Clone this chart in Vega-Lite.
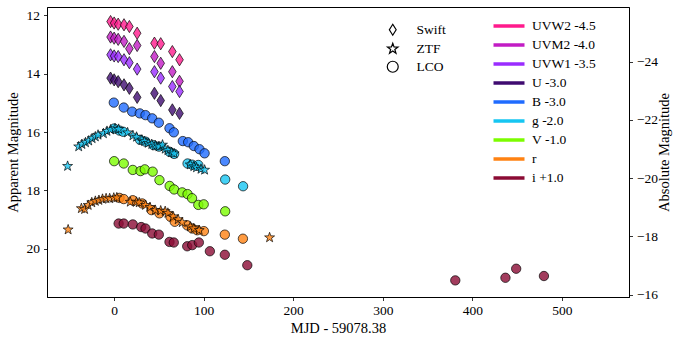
{
  "$schema": "https://vega.github.io/schema/vega-lite/v6.json",
  "width": 582,
  "height": 290,
  "autosize": "none",
  "padding": {"left": 47, "top": 7, "right": 51, "bottom": 45},
  "background": "white",
  "config": {
    "view": {"stroke": "black", "strokeWidth": 1},
    "axis": {"domainColor": "black", "tickColor": "black", "labelColor": "black", "titleColor": "black", "labelFont": "Liberation Serif", "titleFont": "Liberation Serif", "labelFontSize": 13.5, "titleFontSize": 14.5, "titleFontWeight": "normal", "grid": false, "tickSize": 3.5, "tickWidth": 0.8, "domainWidth": 1},
    "legend": {"labelFont": "Liberation Serif", "labelFontSize": 13.5, "labelColor": "black", "symbolBaseFillColor": "transparent", "symbolBaseStrokeColor": "black"}
  },
  "datasets": {
    "phot": [
      {"t": -4, "m": 12.21, "b": "UVW2 -4.5", "s": "Swift"},
      {"t": 0, "m": 12.26, "b": "UVW2 -4.5", "s": "Swift"},
      {"t": 4.5, "m": 12.30, "b": "UVW2 -4.5", "s": "Swift"},
      {"t": 11, "m": 12.32, "b": "UVW2 -4.5", "s": "Swift"},
      {"t": 17, "m": 12.38, "b": "UVW2 -4.5", "s": "Swift"},
      {"t": 25.7, "m": 12.61, "b": "UVW2 -4.5", "s": "Swift"},
      {"t": 45, "m": 12.95, "b": "UVW2 -4.5", "s": "Swift"},
      {"t": 52, "m": 12.97, "b": "UVW2 -4.5", "s": "Swift"},
      {"t": 65, "m": 13.24, "b": "UVW2 -4.5", "s": "Swift"},
      {"t": 73, "m": 13.52, "b": "UVW2 -4.5", "s": "Swift"},
      {"t": -4, "m": 12.74, "b": "UVM2 -4.0", "s": "Swift"},
      {"t": 0, "m": 12.78, "b": "UVM2 -4.0", "s": "Swift"},
      {"t": 4.5, "m": 12.82, "b": "UVM2 -4.0", "s": "Swift"},
      {"t": 11, "m": 12.89, "b": "UVM2 -4.0", "s": "Swift"},
      {"t": 17, "m": 13.14, "b": "UVM2 -4.0", "s": "Swift"},
      {"t": 25.7, "m": 13.03, "b": "UVM2 -4.0", "s": "Swift"},
      {"t": 45, "m": 13.41, "b": "UVM2 -4.0", "s": "Swift"},
      {"t": 52, "m": 13.64, "b": "UVM2 -4.0", "s": "Swift"},
      {"t": 65, "m": 13.93, "b": "UVM2 -4.0", "s": "Swift"},
      {"t": 73, "m": 14.26, "b": "UVM2 -4.0", "s": "Swift"},
      {"t": -4, "m": 13.35, "b": "UVW1 -3.5", "s": "Swift"},
      {"t": 0, "m": 13.39, "b": "UVW1 -3.5", "s": "Swift"},
      {"t": 4.5, "m": 13.41, "b": "UVW1 -3.5", "s": "Swift"},
      {"t": 11, "m": 13.52, "b": "UVW1 -3.5", "s": "Swift"},
      {"t": 17, "m": 13.62, "b": "UVW1 -3.5", "s": "Swift"},
      {"t": 25.7, "m": 13.84, "b": "UVW1 -3.5", "s": "Swift"},
      {"t": 45, "m": 13.93, "b": "UVW1 -3.5", "s": "Swift"},
      {"t": 52, "m": 14.15, "b": "UVW1 -3.5", "s": "Swift"},
      {"t": 65, "m": 14.44, "b": "UVW1 -3.5", "s": "Swift"},
      {"t": 73, "m": 14.61, "b": "UVW1 -3.5", "s": "Swift"},
      {"t": -4, "m": 14.15, "b": "U -3.0", "s": "Swift"},
      {"t": 0, "m": 14.21, "b": "U -3.0", "s": "Swift"},
      {"t": 4.5, "m": 14.27, "b": "U -3.0", "s": "Swift"},
      {"t": 11, "m": 14.38, "b": "U -3.0", "s": "Swift"},
      {"t": 17, "m": 14.50, "b": "U -3.0", "s": "Swift"},
      {"t": 25.7, "m": 14.81, "b": "U -3.0", "s": "Swift"},
      {"t": 45, "m": 14.67, "b": "U -3.0", "s": "Swift"},
      {"t": 52, "m": 14.92, "b": "U -3.0", "s": "Swift"},
      {"t": 65, "m": 15.24, "b": "U -3.0", "s": "Swift"},
      {"t": 73, "m": 15.36, "b": "U -3.0", "s": "Swift"},
      {"t": -0.4, "m": 14.99, "b": "B -3.0", "s": "LCO"},
      {"t": 10.7, "m": 15.16, "b": "B -3.0", "s": "LCO"},
      {"t": 20.1, "m": 15.30, "b": "B -3.0", "s": "LCO"},
      {"t": 28.6, "m": 15.36, "b": "B -3.0", "s": "LCO"},
      {"t": 35, "m": 15.42, "b": "B -3.0", "s": "LCO"},
      {"t": 42.5, "m": 15.53, "b": "B -3.0", "s": "LCO"},
      {"t": 49.9, "m": 15.68, "b": "B -3.0", "s": "LCO"},
      {"t": 61.8, "m": 15.87, "b": "B -3.0", "s": "LCO"},
      {"t": 66.6, "m": 16.01, "b": "B -3.0", "s": "LCO"},
      {"t": 76.7, "m": 16.31, "b": "B -3.0", "s": "LCO"},
      {"t": 82.7, "m": 16.35, "b": "B -3.0", "s": "LCO"},
      {"t": 89, "m": 16.48, "b": "B -3.0", "s": "LCO"},
      {"t": 95.3, "m": 16.59, "b": "B -3.0", "s": "LCO"},
      {"t": 101, "m": 16.73, "b": "B -3.0", "s": "LCO"},
      {"t": 123.6, "m": 17.0, "b": "B -3.0", "s": "LCO"},
      {"t": -52, "m": 17.17, "b": "g -2.0", "s": "ZTF"},
      {"t": -39.6, "m": 16.50, "b": "g -2.0", "s": "ZTF"},
      {"t": -36, "m": 16.42, "b": "g -2.0", "s": "ZTF"},
      {"t": -32, "m": 16.36, "b": "g -2.0", "s": "ZTF"},
      {"t": -28.4, "m": 16.30, "b": "g -2.0", "s": "ZTF"},
      {"t": -24.6, "m": 16.22, "b": "g -2.0", "s": "ZTF"},
      {"t": -21, "m": 16.16, "b": "g -2.0", "s": "ZTF"},
      {"t": -18, "m": 16.10, "b": "g -2.0", "s": "ZTF"},
      {"t": -12, "m": 16.05, "b": "g -2.0", "s": "ZTF"},
      {"t": -8, "m": 15.97, "b": "g -2.0", "s": "ZTF"},
      {"t": -4, "m": 15.92, "b": "g -2.0", "s": "ZTF"},
      {"t": 1, "m": 15.88, "b": "g -2.0", "s": "ZTF"},
      {"t": 5, "m": 15.90, "b": "g -2.0", "s": "ZTF"},
      {"t": 15, "m": 16.02, "b": "g -2.0", "s": "ZTF"},
      {"t": 21, "m": 16.12, "b": "g -2.0", "s": "ZTF"},
      {"t": 25, "m": 16.17, "b": "g -2.0", "s": "ZTF"},
      {"t": 31, "m": 16.27, "b": "g -2.0", "s": "ZTF"},
      {"t": 34, "m": 16.32, "b": "g -2.0", "s": "ZTF"},
      {"t": 38, "m": 16.38, "b": "g -2.0", "s": "ZTF"},
      {"t": 42, "m": 16.42, "b": "g -2.0", "s": "ZTF"},
      {"t": 46, "m": 16.47, "b": "g -2.0", "s": "ZTF"},
      {"t": 50, "m": 16.50, "b": "g -2.0", "s": "ZTF"},
      {"t": 54, "m": 16.44, "b": "g -2.0", "s": "ZTF"},
      {"t": 57, "m": 16.58, "b": "g -2.0", "s": "ZTF"},
      {"t": 60, "m": 16.63, "b": "g -2.0", "s": "ZTF"},
      {"t": 64, "m": 16.70, "b": "g -2.0", "s": "ZTF"},
      {"t": 67, "m": 16.74, "b": "g -2.0", "s": "ZTF"},
      {"t": 85, "m": 17.12, "b": "g -2.0", "s": "ZTF"},
      {"t": 89, "m": 17.18, "b": "g -2.0", "s": "ZTF"},
      {"t": 92, "m": 17.22, "b": "g -2.0", "s": "ZTF"},
      {"t": 97, "m": 17.27, "b": "g -2.0", "s": "ZTF"},
      {"t": 101, "m": 17.30, "b": "g -2.0", "s": "ZTF"},
      {"t": 0, "m": 15.88, "b": "g -2.0", "s": "LCO"},
      {"t": 6, "m": 15.95, "b": "g -2.0", "s": "LCO"},
      {"t": 10, "m": 15.99, "b": "g -2.0", "s": "LCO"},
      {"t": 29, "m": 16.27, "b": "g -2.0", "s": "LCO"},
      {"t": 35, "m": 16.33, "b": "g -2.0", "s": "LCO"},
      {"t": 44, "m": 16.45, "b": "g -2.0", "s": "LCO"},
      {"t": 50, "m": 16.50, "b": "g -2.0", "s": "LCO"},
      {"t": 62, "m": 16.68, "b": "g -2.0", "s": "LCO"},
      {"t": 67, "m": 16.75, "b": "g -2.0", "s": "LCO"},
      {"t": 82, "m": 17.08, "b": "g -2.0", "s": "LCO"},
      {"t": 87, "m": 17.12, "b": "g -2.0", "s": "LCO"},
      {"t": 94, "m": 17.13, "b": "g -2.0", "s": "LCO"},
      {"t": 124, "m": 17.63, "b": "g -2.0", "s": "LCO"},
      {"t": 144, "m": 17.86, "b": "g -2.0", "s": "LCO"},
      {"t": 0, "m": 17.0, "b": "V -1.0", "s": "LCO"},
      {"t": 10.7, "m": 17.08, "b": "V -1.0", "s": "LCO"},
      {"t": 20.8, "m": 17.30, "b": "V -1.0", "s": "LCO"},
      {"t": 29.4, "m": 17.34, "b": "V -1.0", "s": "LCO"},
      {"t": 34.2, "m": 17.28, "b": "V -1.0", "s": "LCO"},
      {"t": 43, "m": 17.36, "b": "V -1.0", "s": "LCO"},
      {"t": 50.6, "m": 17.65, "b": "V -1.0", "s": "LCO"},
      {"t": 62, "m": 17.85, "b": "V -1.0", "s": "LCO"},
      {"t": 67, "m": 17.97, "b": "V -1.0", "s": "LCO"},
      {"t": 76, "m": 18.07, "b": "V -1.0", "s": "LCO"},
      {"t": 82, "m": 18.13, "b": "V -1.0", "s": "LCO"},
      {"t": 87, "m": 18.27, "b": "V -1.0", "s": "LCO"},
      {"t": 94, "m": 18.50, "b": "V -1.0", "s": "LCO"},
      {"t": 100, "m": 18.48, "b": "V -1.0", "s": "LCO"},
      {"t": 124, "m": 18.72, "b": "V -1.0", "s": "LCO"},
      {"t": -51.4, "m": 19.35, "b": "r", "s": "ZTF"},
      {"t": -36.6, "m": 18.62, "b": "r", "s": "ZTF"},
      {"t": -33, "m": 18.65, "b": "r", "s": "ZTF"},
      {"t": -29, "m": 18.51, "b": "r", "s": "ZTF"},
      {"t": -25, "m": 18.42, "b": "r", "s": "ZTF"},
      {"t": -21, "m": 18.37, "b": "r", "s": "ZTF"},
      {"t": -17, "m": 18.34, "b": "r", "s": "ZTF"},
      {"t": -13, "m": 18.30, "b": "r", "s": "ZTF"},
      {"t": -9, "m": 18.28, "b": "r", "s": "ZTF"},
      {"t": -5, "m": 18.28, "b": "r", "s": "ZTF"},
      {"t": -0.4, "m": 18.26, "b": "r", "s": "ZTF"},
      {"t": 3, "m": 18.25, "b": "r", "s": "ZTF"},
      {"t": 18, "m": 18.40, "b": "r", "s": "ZTF"},
      {"t": 25, "m": 18.40, "b": "r", "s": "ZTF"},
      {"t": 28, "m": 18.42, "b": "r", "s": "ZTF"},
      {"t": 35, "m": 18.51, "b": "r", "s": "ZTF"},
      {"t": 40, "m": 18.58, "b": "r", "s": "ZTF"},
      {"t": 46, "m": 18.68, "b": "r", "s": "ZTF"},
      {"t": 52, "m": 18.70, "b": "r", "s": "ZTF"},
      {"t": 57, "m": 18.72, "b": "r", "s": "ZTF"},
      {"t": 60, "m": 18.78, "b": "r", "s": "ZTF"},
      {"t": 66, "m": 18.90, "b": "r", "s": "ZTF"},
      {"t": 71.5, "m": 19.0, "b": "r", "s": "ZTF"},
      {"t": 76, "m": 19.10, "b": "r", "s": "ZTF"},
      {"t": 85, "m": 19.25, "b": "r", "s": "ZTF"},
      {"t": 89, "m": 19.31, "b": "r", "s": "ZTF"},
      {"t": 95, "m": 19.37, "b": "r", "s": "ZTF"},
      {"t": 173.6, "m": 19.62, "b": "r", "s": "ZTF"},
      {"t": 6, "m": 18.26, "b": "r", "s": "LCO"},
      {"t": 10.7, "m": 18.30, "b": "r", "s": "LCO"},
      {"t": 20.8, "m": 18.34, "b": "r", "s": "LCO"},
      {"t": 31.3, "m": 18.45, "b": "r", "s": "LCO"},
      {"t": 41.7, "m": 18.68, "b": "r", "s": "LCO"},
      {"t": 50.6, "m": 18.79, "b": "r", "s": "LCO"},
      {"t": 62.9, "m": 18.91, "b": "r", "s": "LCO"},
      {"t": 67.7, "m": 19.08, "b": "r", "s": "LCO"},
      {"t": 81.6, "m": 19.20, "b": "r", "s": "LCO"},
      {"t": 87.2, "m": 19.31, "b": "r", "s": "LCO"},
      {"t": 92.8, "m": 19.37, "b": "r", "s": "LCO"},
      {"t": 100.2, "m": 19.40, "b": "r", "s": "LCO"},
      {"t": 123.6, "m": 19.52, "b": "r", "s": "LCO"},
      {"t": 143.8, "m": 19.66, "b": "r", "s": "LCO"},
      {"t": 5, "m": 19.14, "b": "i +1.0", "s": "LCO"},
      {"t": 10.7, "m": 19.14, "b": "i +1.0", "s": "LCO"},
      {"t": 20.8, "m": 19.17, "b": "i +1.0", "s": "LCO"},
      {"t": 30.2, "m": 19.26, "b": "i +1.0", "s": "LCO"},
      {"t": 35, "m": 19.31, "b": "i +1.0", "s": "LCO"},
      {"t": 42.5, "m": 19.48, "b": "i +1.0", "s": "LCO"},
      {"t": 49.9, "m": 19.52, "b": "i +1.0", "s": "LCO"},
      {"t": 61.8, "m": 19.77, "b": "i +1.0", "s": "LCO"},
      {"t": 66.6, "m": 19.79, "b": "i +1.0", "s": "LCO"},
      {"t": 81.6, "m": 19.92, "b": "i +1.0", "s": "LCO"},
      {"t": 87.2, "m": 19.88, "b": "i +1.0", "s": "LCO"},
      {"t": 94.6, "m": 19.79, "b": "i +1.0", "s": "LCO"},
      {"t": 106.9, "m": 20.09, "b": "i +1.0", "s": "LCO"},
      {"t": 123.6, "m": 20.21, "b": "i +1.0", "s": "LCO"},
      {"t": 148.7, "m": 20.57, "b": "i +1.0", "s": "LCO"},
      {"t": 381, "m": 21.09, "b": "i +1.0", "s": "LCO"},
      {"t": 437, "m": 21.0, "b": "i +1.0", "s": "LCO"},
      {"t": 449, "m": 20.69, "b": "i +1.0", "s": "LCO"},
      {"t": 480, "m": 20.94, "b": "i +1.0", "s": "LCO"}
    ]
  },
  "resolve": {"scale": {"y": "independent"}, "axis": {"y": "independent"}},
  "layer": [
    {
      "data": {"name": "phot"},
      "encoding": {
        "x": {"field": "t", "type": "quantitative", "scale": {"domain": [-75, 575], "nice": false, "zero": false},
              "axis": {"title": "MJD - 59078.38", "values": [0, 100, 200, 300, 400, 500], "labelPadding": 3, "titlePadding": 4}},
        "y": {"field": "m", "type": "quantitative", "scale": {"domain": [11.71, 21.66], "reverse": true, "nice": false, "zero": false},
              "axis": {"title": "Apparent Magnitude", "values": [12, 14, 16, 18, 20], "labelPadding": 4, "titlePadding": 6}},
        "color": {"field": "b", "type": "nominal",
          "scale": {"domain": ["UVW2 -4.5", "UVM2 -4.0", "UVW1 -3.5", "U -3.0", "B -3.0", "g -2.0", "V -1.0", "r", "i +1.0"],
                    "range": ["#ff1a8c", "#c21cc4", "#9a2cff", "#3f0b70", "#1f6bff", "#16c6f2", "#7cfc00", "#ff8212", "#8b0b34"]},
          "legend": {"orient": "none", "legendX": 455, "legendY": 12, "title": null, "padding": 0, "symbolType": "M-3.1,0L3.1,0", "symbolSize": 100, "symbolStrokeWidth": 3.5, "labelOffset": 16, "rowPadding": 5}}
      },
      "layer": [
        {"mark": {"type": "line", "strokeWidth": 3.5, "strokeCap": "butt"},
         "encoding": {"detail": [{"field": "b"}, {"field": "s"}, {"field": "t"}]}},
        {"transform": [{"filter": "datum.s === 'Swift'"}],
         "mark": {"type": "point", "filled": true, "size": 150, "fillOpacity": 0.8, "stroke": "black", "strokeWidth": 0.8, "strokeOpacity": 0.85},
         "encoding": {"shape": {"field": "s", "type": "nominal",
          "scale": {"domain": ["Swift", "ZTF", "LCO"],
                    "range": ["M0,-1L0.62,0L0,1L-0.62,0Z", "M0,-1L0.235,-0.324L0.951,-0.309L0.38,0.124L0.588,0.809L0,0.4L-0.588,0.809L-0.38,0.124L-0.951,-0.309L-0.235,-0.324Z", "circle"]},
          "legend": {"orient": "none", "legendX": 339, "legendY": 16, "title": null, "padding": 0, "symbolSize": 120, "symbolFillColor": "transparent", "symbolStrokeColor": "black", "symbolStrokeWidth": 1.2, "labelOffset": 17, "rowPadding": 2}}}},
        {"transform": [{"filter": "datum.s === 'LCO'"}],
         "mark": {"type": "point", "filled": true, "size": 88, "fillOpacity": 0.8, "stroke": "black", "strokeWidth": 0.8, "strokeOpacity": 0.85},
         "encoding": {"shape": {"field": "s", "type": "nominal"}}},
        {"transform": [{"filter": "datum.s === 'ZTF'"}],
         "mark": {"type": "point", "filled": true, "size": 110, "fillOpacity": 0.8, "stroke": "black", "strokeWidth": 0.8, "strokeOpacity": 0.85},
         "encoding": {"shape": {"field": "s", "type": "nominal"}}}
      ]
    },
    {
      "data": {"values": [{"a": -20}]},
      "mark": {"type": "point", "opacity": 0},
      "encoding": {
        "y": {"field": "a", "type": "quantitative", "scale": {"domain": [-25.87, -15.92], "reverse": true, "nice": false, "zero": false},
              "axis": {"orient": "right", "title": "Absolute Magnitude", "values": [-24, -22, -20, -18, -16], "labelPadding": 4, "titlePadding": 14, "titleAngle": -90}}
      }
    }
  ]
}
